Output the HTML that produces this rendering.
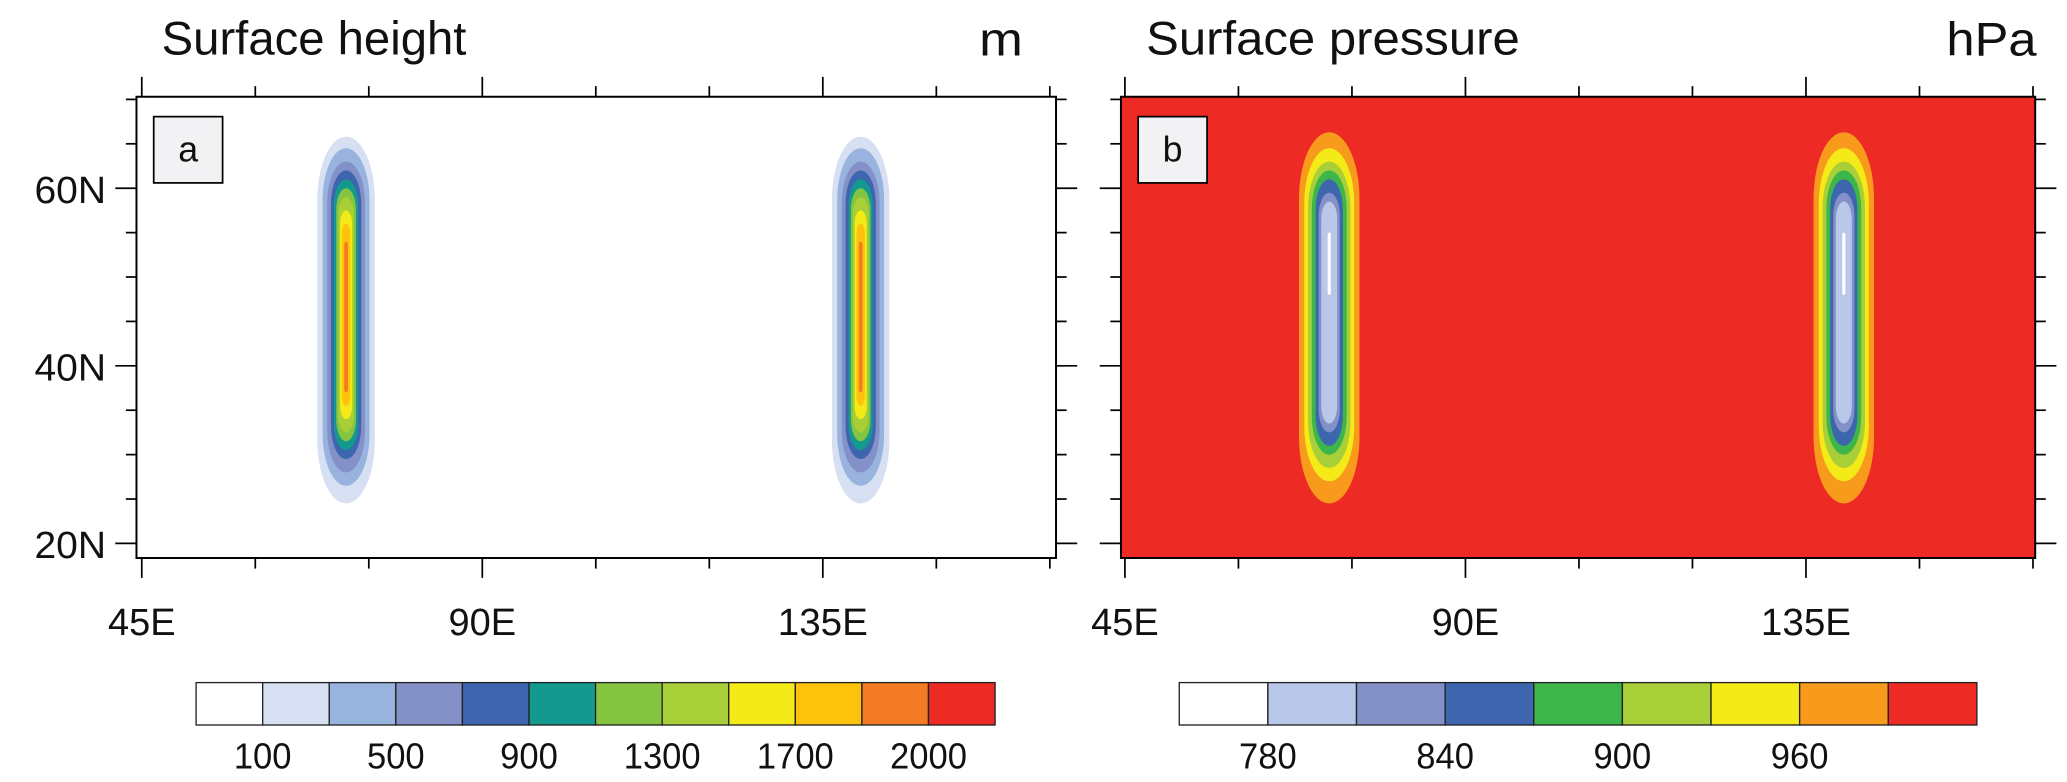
<!DOCTYPE html>
<html><head><meta charset="utf-8"><style>
html,body{margin:0;padding:0;background:#fff;}
svg{display:block;font-family:"Liberation Sans",sans-serif;}
</style></head><body>
<svg id="chart" width="2067" height="782" viewBox="0 0 1560 590" preserveAspectRatio="none" xmlns="http://www.w3.org/2000/svg"></svg>
<script>
// ---- data ----
const lonTicks = [45, 90, 135];
const lonTickLabels = ["45E", "90E", "135E"];
const latTicks = [20, 40, 60];
const latTickLabels = ["20N", "40N", "60N"];
const mountainLons = [72, 140];
const heightColors = ["#ffffff","#d6e0f2","#98b3dd","#8491c9","#3d66ae","#14998f","#84c440","#a8cf38","#f4ea18","#fdc30c","#f47a23","#ee2a24"];
const heightLabels = ["100","500","900","1300","1700","2000"];
const heightLabelIdx = [1,3,5,7,9,11];
// contour shells for height: half-width (deg lon), south lat, north lat
const hHalfW = [3.8, 3.1, 2.5, 2.0, 1.6, 1.3, 1.05, 0.8, 0.55, 0.25];
const hSouth = [24.5, 26.5, 28, 29.5, 30.5, 31.5, 32.5, 34, 35.5, 37];
const hNorth = [65.8, 64.5, 63, 62, 61, 60, 59, 57.5, 56, 54];
const hColorIdx = [1,2,3,4,5,6,7,8,9,10];
const presColors = ["#ffffff","#b9c8e8","#8491c9","#3d66ae","#3cb54a","#a8cf38","#f4ea18","#f89a1c","#ee2a24"];
const presLabels = ["780","840","900","960"];
const presLabelIdx = [1,3,5,7];
const pHalfW = [4.0, 3.3, 2.8, 2.3, 1.8, 1.4, 1.05];
const pSouth = [24.5, 27, 28.5, 30, 31, 32.5, 33.5];
const pNorth = [66.3, 64.5, 63, 62, 61, 59.5, 58.5];
const pColorIdx = [7,6,5,4,3,2,1];

// ---- layout ----
const NS="http://www.w3.org/2000/svg";
const svg=document.getElementById('chart');
function mk(tag,attrs,parent){const e=document.createElementNS(NS,tag);for(const k in attrs)e.setAttribute(k,attrs[k]);(parent||svg).appendChild(e);return e;}
const panels=[
 {id:'a',x0:103,x1:797,lon45:107,bg:'#ffffff',title:'Surface height',tl:230,unit:'m',ux:772,uw:33,halfW:hHalfW,south:hSouth,north:hNorth,cidx:hColorIdx,colors:heightColors,cbX:148,cbW:603,labels:heightLabels,labIdx:heightLabelIdx},
 {id:'b',x0:846,x1:1536,lon45:849,bg:'#ee2a24',title:'Surface pressure',tl:282,unit:'hPa',ux:1537,uw:68,halfW:pHalfW,south:pSouth,north:pNorth,cidx:pColorIdx,colors:presColors,cbX:890,cbW:602,labels:presLabels,labIdx:presLabelIdx}
];
const yTop=73,yBot=421;
const pxPerDeg=257/45;
function yScale(lat){return 410-(lat-20)*6.7;}
function ctext(g,x,y,size,s,anchor,w,name){
 const a={x:x,y:y,'font-size':size,fill:'#111','text-anchor':anchor};
 if(w){a.textLength=w;a.lengthAdjust='spacingAndGlyphs';}
 const t=mk('text',a,g);t.textContent=s;
 
 
 return t;
}
panels.forEach(p=>{
 const xScale=lon=>p.lon45+(lon-45)*pxPerDeg;
 const g=mk('g',{});
 
 
 ctext(g,p.x0+19,41,36,p.title,'start',p.tl,'panel-title-'+p.id);
 ctext(g,p.ux,42,36,p.unit,'end',p.uw,'unit-label-'+p.id);
 const bg=mk('rect',{x:p.x0,y:yTop,width:p.x1-p.x0,height:yBot-yTop,fill:p.bg},g);
 
 
 mountainLons.forEach((lon,mi)=>{
  p.halfW.forEach((hw,i)=>{
   const cx=xScale(lon),w=hw*pxPerDeg;
   const yt=yScale(p.north[i]),yb=yScale(p.south[i]);
   const r=mk('rect',{x:cx-w,y:yt,width:2*w,height:yb-yt,rx:w,ry:Math.min(w*2.2,(yb-yt)/2),fill:p.colors[p.cidx[i]]},g);
   
   
  });
  if(p.id==='b'){
   const cx=xScale(lon);
   const w=mk('rect',{x:cx-1.2,y:yScale(55),width:2.4,height:yScale(48)-yScale(55),rx:1.2,fill:'#ffffff'},g);
   
   
  }
 });
 const fr=mk('rect',{x:p.x0,y:yTop,width:p.x1-p.x0,height:yBot-yTop,fill:'none',stroke:'#000','stroke-width':1.5},g);
 
 
 for(let lon=45;lon<=165;lon+=15){
  const x=xScale(lon); if(x>p.x1+1)continue;
  const maj=lonTicks.includes(lon);const L=maj?15:8;
  mk('line',{x1:x,x2:x,y1:yTop-L,y2:yTop,stroke:'#000','stroke-width':1.3},g);
  mk('line',{x1:x,x2:x,y1:yBot,y2:yBot+L,stroke:'#000','stroke-width':1.3},g);
 }
 lonTicks.forEach((lon,i)=>{ctext(g,xScale(lon),479,29,lonTickLabels[i],'middle',lonTickLabels[i].length*17,'x-tick-label');});
 for(let lat=20;lat<=70;lat+=5){
  const y=yScale(lat);const maj=latTicks.includes(lat);const L=maj?16:8;
  mk('line',{x1:p.x0-L,x2:p.x0,y1:y,y2:y,stroke:'#000','stroke-width':1.3},g);
  mk('line',{x1:p.x1,x2:p.x1+L,y1:y,y2:y,stroke:'#000','stroke-width':1.3},g);
 }
 if(p.id==='a') latTicks.forEach((lat,i)=>{ctext(g,80,yScale(lat)+11,29,latTickLabels[i],'end',54,'y-tick-label');});
 const lb=mk('rect',{x:p.x0+13,y:88,width:52,height:50,fill:'#f2f2f4',stroke:'#000','stroke-width':1.3},g);
 
 
 ctext(g,p.x0+39,122,27,p.id,'middle',0,'panel-label-'+p.id);
 const n=p.colors.length,bw=p.cbW/n;
 p.colors.forEach((c,i)=>{const r=mk('rect',{x:p.cbX+i*bw,y:515,width:bw,height:32,fill:c,stroke:'#222','stroke-width':1},g);
  
  });
 p.labels.forEach((s,i)=>{ctext(g,p.cbX+p.labIdx[i]*bw,580,27,s,'middle',s.length*14.5,'colorbar-label');});
});
</script>
</body></html>
